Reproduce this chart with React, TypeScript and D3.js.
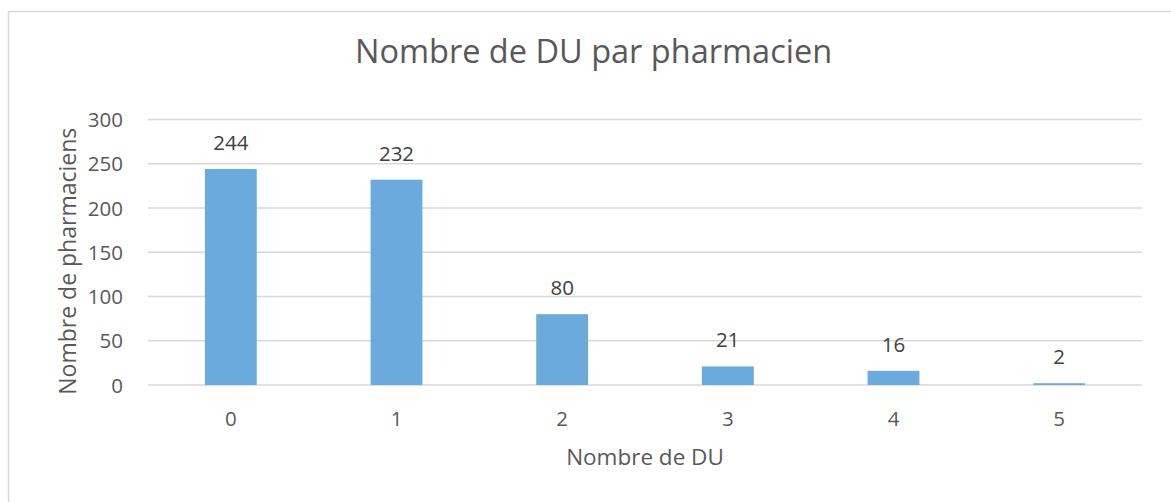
import * as d3 from "d3";

const categories = ["0", "1", "2", "3", "4", "5"];
const values = [244, 232, 80, 21, 16, 2];
const yTicks = [0, 50, 100, 150, 200, 250, 300];

const title = "Nombre de DU par pharmacien";
const xTitle = "Nombre de DU";
const yTitle = "Nombre de pharmaciens";

const W = 1171;
const H = 502;
const font = "'Open Sans', 'DejaVu Sans', sans-serif";

export default function App() {
  const margin = { left: 148, right: 29, top: 119.5, bottom: 117 };

  const x = d3
    .scaleBand<string>()
    .domain(categories)
    .range([margin.left, W - margin.right])
    .paddingInner(0.687)
    .paddingOuter(0.3435);

  const y = d3
    .scaleLinear()
    .domain([0, 300])
    .range([H - margin.bottom, margin.top]);

  const plotMid = (margin.left + W - margin.right) / 2;

  return (
    <svg
      width={W}
      height={H}
      style={{ position: "absolute", left: 0, top: 0, display: "block" }}
      fontFamily={font}
    >
      <rect x={0} y={0} width={W} height={H} fill="#fff" />
      <rect x={8.5} y={11.5} width={1300} height={600} fill="none" stroke="#d9d9d9" strokeWidth={1.5} />

      <text x={593.5} y={63} textAnchor="middle" fontSize={32.5} fill="#595959">
        {title}
      </text>

      {yTicks.map((t) => (
        <g key={t}>
          <line
            x1={margin.left}
            x2={W - margin.right}
            y1={y(t)}
            y2={y(t)}
            stroke="#d9d9d9"
            strokeWidth={1.5}
          />
          <text x={123} y={y(t) + 7.5} textAnchor="end" fontSize={20.5} fill="#595959">
            {t}
          </text>
        </g>
      ))}

      {categories.map((c, i) => (
        <g key={c}>
          <rect
            x={x(c)}
            y={y(values[i])}
            width={x.bandwidth()}
            height={y(0) - y(values[i])}
            fill="#6aaadc"
          />
          <text
            x={x(c)! + x.bandwidth() / 2}
            y={y(values[i]) - 19}
            textAnchor="middle"
            fontSize={20.5}
            fill="#404040"
          >
            {values[i]}
          </text>
          <text
            x={x(c)! + x.bandwidth() / 2}
            y={426}
            textAnchor="middle"
            fontSize={20.5}
            fill="#595959"
          >
            {c}
          </text>
        </g>
      ))}

      <text x={plotMid} y={465} textAnchor="middle" fontSize={22.5} fill="#595959">
        {xTitle}
      </text>
      <text
        transform={`translate(76, ${(y(0) + y(300)) / 2 + 9}) rotate(-90)`}
        textAnchor="middle"
        fontSize={23}
        fill="#595959"
      >
        {yTitle}
      </text>
    </svg>
  );
}
